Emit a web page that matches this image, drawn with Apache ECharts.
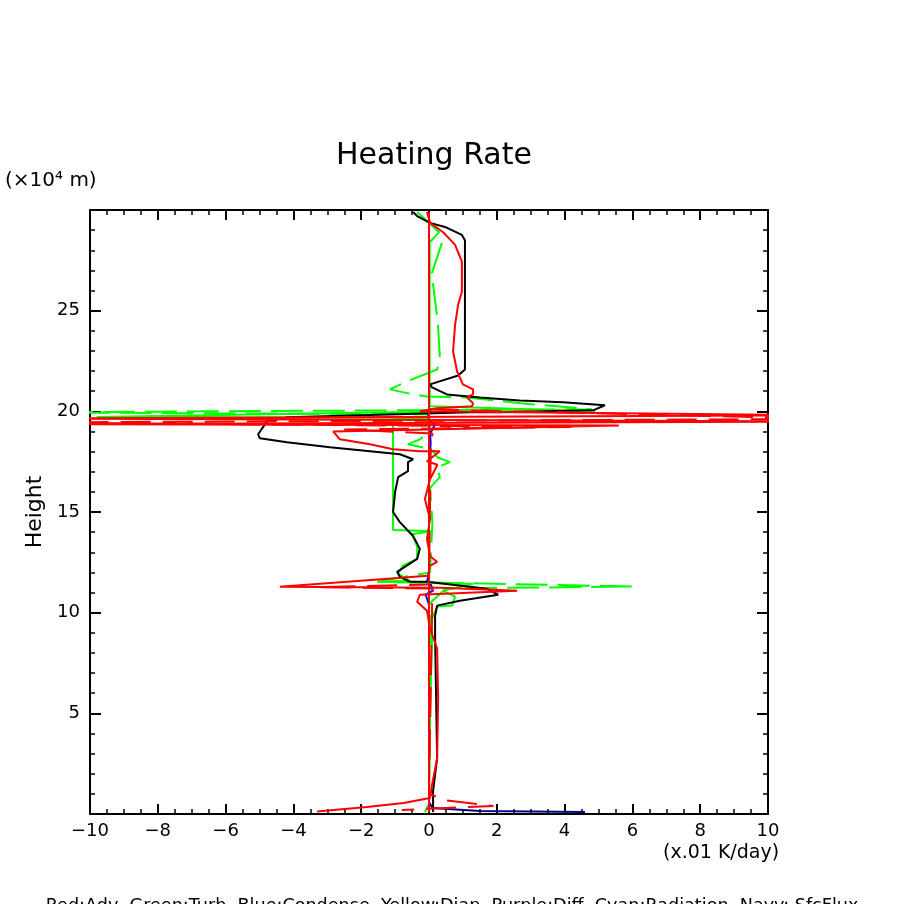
<!DOCTYPE html>
<html>
<head>
<meta charset="utf-8">
<script src="https://cdn.jsdelivr.net/npm/echarts@6/dist/echarts.min.js"></script>
<style>
html,body{margin:0;padding:0;background:#fff;}
#chart{width:904px;height:904px;}
</style>
</head>
<body>
<div id="chart"></div>
<script>
// ---- data (x in .01 K/day, y in 10^4 m) ----
var xTicks = [-10, -8, -6, -4, -2, 0, 2, 4, 6, 8, 10];
var yTicks = [5, 10, 15, 20, 25];

var totalBlack = [
  [-0.47,29.9],[-0.35,29.7],[0.03,29.36],[0.47,29.16],[0.97,28.76],[1.06,28.5],[1.06,22.08],
  [0.86,21.78],[0.03,21.34],[0.09,21.19],[0.53,20.84],[1.5,20.69],[2.68,20.54],[3.95,20.45],
  [5.19,20.3],[4.84,20.05],[2.09,19.95],[1.21,19.95],[-4.19,19.7],[-4.78,19.5],[-5.04,18.86],
  [-4.99,18.66],[-4.19,18.47],[-2.92,18.22],[-1.74,18.02],[-0.86,17.87],[-0.47,17.62],
  [-0.62,17.48],[-0.62,17.03],[-0.91,16.73],[-1.0,15.99],[-1.06,15.0],[-0.86,14.5],
  [-0.47,13.81],[-0.27,13.17],[-0.35,12.67],[-0.94,12.03],[-0.86,11.78],[-0.56,11.53],
  [-0.06,11.53],[1.71,11.19],[2.04,10.89],[0.91,10.59],[0.24,10.35],[0.18,9.85],[0.18,8.71],
  [0.21,5.74],[0.24,2.77],[0.12,1.14],[0.12,0.1]
];

var advRed = [
  [-0.06,29.9],[0.03,29.36],[0.41,28.91],[0.77,28.27],[0.97,27.43],[0.97,25.94],[0.86,25.3],
  [0.77,24.31],[0.71,22.97],[0.83,21.98],[1.0,21.34],[1.3,21.09],[1.3,20.84],[1.12,20.69],
  [1.3,20.4],[1.27,20.25],[0.24,20.15],[-0.27,20.0],[12,19.8],[-12,19.65],[12,19.5],
  [-12,19.36],[5.6,19.3],[-2.83,19.0],[-2.63,18.61],[-1.74,18.37],[-1.06,18.12],[-0.27,18.02],
  [0.32,18.02],[-0.06,17.52],[0.25,17.35],[0.03,16.63],[-0.12,15.64],[0.03,14.65],
  [-0.06,13.66],[0.03,12.82],[0.24,12.52],[0.03,12.33],[-0.03,11.83],[-4.4,11.29],
  [0.32,11.24],[2.6,11.09],[-0.27,10.89],[-0.35,10.54],[-0.06,10.1],[0.03,9.21],[0.24,8.22],
  [0.27,5.74],[0.24,2.77],[0.09,1.44],[0.03,0.79],[-0.75,0.55],[-1.83,0.35],[-3.3,0.12]
];

var advRedDash = [
  [0,20.1],[12,19.62],[-12,19.45],[4.2,19.22],[-2.5,19.1],[0.1,18.9],[0.05,18.0],
  [0,11.4],[-3.3,11.27],[0.1,11.2],[0,1.0],[0.5,0.68],[1.9,0.4],[0.5,0.3],[-0.8,0.2]
];

var zeroRed = [[0,0.1],[0,29.9]];

var turbGreen = [
  [-0.35,29.9],[0.3,28.9],[0.02,28.4],[0.02,20.25],[4.9,20.0],[-1.06,19.95],[-9.8,19.72],
  [0,19.68],[-1.06,19.62],[-1.06,14.1],[0.1,14.05],[-0.5,13.9],[-0.35,13.3],[-0.35,12.67],
  [-0.77,12.33],[-0.91,11.93],[-0.56,11.58],[-1.53,11.53],[1.3,11.43],[0.41,11.09],
  [0.77,10.79],[0.68,10.35],[0.24,10.3],[0.09,9.7],[0.09,8.71],[0.03,5.0],[0.0,1.5],
  [0.0,0.5],[-0.12,0.1]
];

var turbGreenDash = [
  [0.38,28.37],[0.09,26.88],[0.12,26.29],[0.24,24.7],[0.27,24.16],[0.32,22.67],[0.24,22.08],
  [-0.65,21.49],[-1.15,21.09],[-0.47,20.84],[-0.06,20.74],[1.12,20.69],[2.7,20.4],[4.8,20.1],
  [-12,19.95],[0,19.85],[0.03,18.96],[-0.27,18.61],[-0.62,18.37],[0.1,18.1],[0.24,17.72],
  [0.62,17.48],[0.24,17.23],[0.32,16.73],[0.03,16.2],[0.1,14.5],[0.03,12.0],[-1.5,11.55],
  [6.0,11.3],[0.5,11.2],[0.05,10.5],[0.03,5.0],[0.0,0.3]
];

var condBlue = [
  [0,0.5],[0,10.4],[-0.1,10.9],[0.12,11.1],[0.05,11.4],[-0.05,11.6],[0,12],[0,17.6],
  [0.05,18.4],[0.03,18.9],[0.18,19.35],[-0.05,19.6],[0,20],[0,20.3]
];

var sfcNavyLow = [[4.6,0.1],[1.5,0.15],[0.1,0.3],[0,0.6]];
var sfcNavyUp = [[0,0.6],[0,29.9]];

var legendText = 'Red:Adv  Green:Turb  Blue:Condense  Yellow:Diap  Purple:Diff  Cyan:Radiation  Navy: SfcFlux';

var FONT = 'DejaVu Sans';
var chart = echarts.init(document.getElementById('chart'), null, {renderer:'canvas'});

function line(name, data, color, dash, z) {
  return {
    name: name, type: 'line', data: data, showSymbol: false, symbol: 'none',
    clip: true, animation: false, z: z || 2,
    lineStyle: {color: color, width: 2, type: dash || 'solid'}
  };
}

function fmtTick(v) { return String(v).replace('-', '\u2212'); }

var axisBase = {
  type: 'value', min: -10, max: 10, interval: 2,
  axisLine: {show: true, onZero: false, lineStyle: {color: '#000', width: 2}},
  axisTick: {show: true, inside: true, length: 10, lineStyle: {color: '#000', width: 2}},
  minorTick: {show: true, splitNumber: 4, length: 5, lineStyle: {color: '#000', width: 1.5}},
  splitLine: {show: false}
};

chart.setOption({
  backgroundColor: '#fff',
  animation: false,
  title: {
    text: 'Heating Rate', left: 429, top: 136, textAlign: 'center',
    textStyle: {fontFamily: FONT, fontSize: 30, fontWeight: 'normal', color: '#000'}
  },
  grid: {left: 90, right: 136, top: 210, bottom: 90, containLabel: false},
  xAxis: [
    Object.assign({}, axisBase, {
      position: 'bottom',
      axisLabel: {show: true, margin: 8, fontFamily: FONT, fontSize: 18, color: '#000',
        customValues: xTicks, formatter: fmtTick}
    }),
    Object.assign({}, axisBase, {
      position: 'top', axisLabel: {show: false}
    })
  ],
  yAxis: [
    Object.assign({}, axisBase, {
      min: 0, max: 30, interval: 5, position: 'left',
      minorTick: {show: true, splitNumber: 5, length: 5, lineStyle: {color: '#000', width: 1.5}},
      axisTick: {show: true, inside: true, length: 11, lineStyle: {color: '#000', width: 2},
        customValues: yTicks},
      axisLabel: {show: true, margin: 10, fontFamily: FONT, fontSize: 18, color: '#000',
        customValues: yTicks}
    }),
    Object.assign({}, axisBase, {
      min: 0, max: 30, interval: 5, position: 'right',
      minorTick: {show: true, splitNumber: 5, length: 5, lineStyle: {color: '#000', width: 1.5}},
      axisTick: {show: true, inside: true, length: 11, lineStyle: {color: '#000', width: 2},
        customValues: yTicks},
      axisLabel: {show: false}
    })
  ],
  series: [
    line('SfcFlux', sfcNavyUp, '#000080', [6, 34], 1),
    line('SfcFlux low', sfcNavyLow, '#000080', 'solid', 1),
    line('Condense', condBlue, '#0000ff', 'solid', 2),
    line('Turb dash', turbGreenDash, '#00ff00', [32, 10], 3),
    line('Turb', turbGreen, '#00ff00', 'solid', 3),
    line('Total', totalBlack, '#000000', 'solid', 4),
    line('Adv dash', advRedDash, '#ff0000', [30, 12], 5),
    line('Adv', advRed, '#ff0000', 'solid', 5),
    line('Zero', zeroRed, '#ff0000', 'solid', 6)
  ],
  graphic: [
    {type: 'text', left: 5, top: 171, style: {text: '(×10⁴ m)', font: '20px ' + FONT, fill: '#000'}},
    {type: 'text', left: 663, top: 844, style: {text: '(x.01 K/day)', font: '19px ' + FONT, fill: '#000'}},
    {type: 'text', x: 35, y: 512, rotation: Math.PI / 2,
      style: {text: 'Height', font: '22px ' + FONT, fill: '#000', align: 'center', verticalAlign: 'middle'}},
    {type: 'text', x: 452, y: 906,
      style: {text: legendText, font: '17.6px ' + FONT, fill: '#000', align: 'center', verticalAlign: 'middle'}}
  ]
});
</script>
</body>
</html>
